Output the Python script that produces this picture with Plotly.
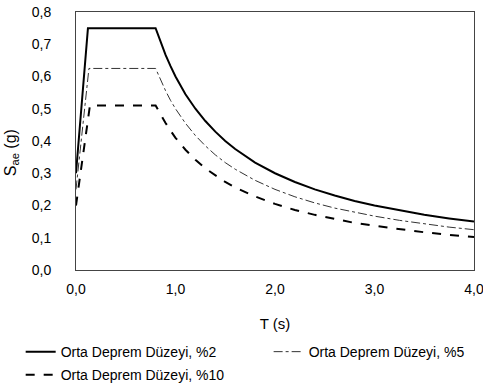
import plotly.graph_objects as go

T_decay = [0.8, 0.85, 0.9, 0.95, 1.0, 1.1, 1.2, 1.3, 1.4, 1.5, 1.6, 1.8, 2.0, 2.2, 2.4, 2.6, 2.8, 3.0, 3.25, 3.5, 3.75, 4.0]
T2 = [0.0, 0.12] + T_decay
T5 = [0.0, 0.13] + T_decay
T10 = [0.0, 0.14] + T_decay
sae_2 = [0.30, 0.75, 0.75, 0.706, 0.667, 0.632, 0.60, 0.545, 0.50, 0.462, 0.429, 0.40, 0.375, 0.333, 0.30, 0.273, 0.25, 0.231, 0.214, 0.20, 0.185, 0.171, 0.16, 0.15]
sae_5 = [0.25, 0.625, 0.625, 0.588, 0.556, 0.526, 0.50, 0.455, 0.417, 0.385, 0.357, 0.333, 0.3125, 0.278, 0.25, 0.227, 0.208, 0.192, 0.179, 0.167, 0.154, 0.143, 0.133, 0.125]
sae_10 = [0.20, 0.51, 0.51, 0.482, 0.456, 0.432, 0.41, 0.373, 0.342, 0.315, 0.293, 0.273, 0.256, 0.228, 0.205, 0.186, 0.171, 0.158, 0.146, 0.137, 0.126, 0.117, 0.109, 0.1025]
names = ["Orta Deprem Düzeyi, %2", "Orta Deprem Düzeyi, %5", "Orta Deprem Düzeyi, %10"]
x_ticks = [0, 1, 2, 3, 4]
y_ticks = [0.0, 0.1, 0.2, 0.3, 0.4, 0.5, 0.6, 0.7, 0.8]

fig = go.Figure()
fig.add_trace(go.Scatter(x=T2, y=sae_2, name=names[0], mode="lines", legend="legend", legendgroup="a",
                         line=dict(color="black", width=2, dash="solid")))
fig.add_trace(go.Scatter(x=T5, y=sae_5, name=names[1], mode="lines", legend="legend2", legendgroup="b",
                         line=dict(color="#333333", width=1, dash="dashdot")))
fig.add_trace(go.Scatter(x=T10, y=sae_10, name=names[2], mode="lines", legend="legend", legendgroup="c",
                         line=dict(color="black", width=2, dash="dash")))

font = "Liberation Sans, Arial, sans-serif"
leg_common = dict(orientation="v", yanchor="top", xanchor="left",
                  itemwidth=30, tracegroupgap=2, bgcolor="rgba(0,0,0,0)",
                  font=dict(size=14))
fig.update_layout(
    width=483, height=387,
    margin=dict(l=76, r=9, t=12, b=117, autoexpand=False),
    paper_bgcolor="white", plot_bgcolor="white",
    separators=", ",
    font=dict(family=font, size=14, color="black"),
    showlegend=True,
    legend=dict(x=-0.139, y=-0.256, **leg_common),
    legend2=dict(x=0.484, y=-0.256, **leg_common),
    annotations=[dict(text="S<sub>ae</sub> (g)", textangle=-90, xref="paper", yref="paper",
                      x=-0.163, y=0.453, xanchor="center", yanchor="middle",
                      showarrow=False, font=dict(size=16))],
)
fig.update_xaxes(range=[0, 4], tickvals=x_ticks, tickformat=".1f",
                 showgrid=False, zeroline=False,
                 showline=True, linecolor="#444444", linewidth=1, mirror=True,
                 ticks="", ticklabelstandoff=6, ticklabeloverflow="allow",
                 title=dict(text="T (s)", standoff=22, font=dict(size=15)))
fig.update_yaxes(range=[0, 0.8], tickvals=y_ticks, tickformat=".1f",
                 showgrid=False, zeroline=False,
                 showline=True, linecolor="#444444", linewidth=1, mirror=True,
                 ticks="", ticklabelstandoff=21, ticklabeloverflow="allow")

fig.write_html("out.html", config={"displayModeBar": False},
               post_script="document.body.style.margin='0';")
